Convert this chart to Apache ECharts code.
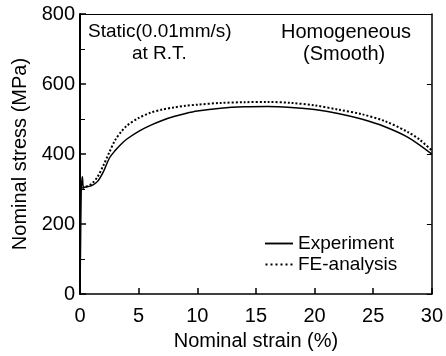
<!DOCTYPE html>
<html>
<head>
<meta charset="utf-8">
<script src="https://cdn.jsdelivr.net/npm/echarts@6/dist/echarts.min.js"></script>
<style>
  html, body { margin: 0; padding: 0; background: #fff; }
  #chart { width: 446px; height: 356px; }
</style>
</head>
<body>
<div id="chart"></div>
<script>
// strain (%), stress (MPa)
const experimentData = [
  [0, 0], [0.05, 150], [0.1, 290], [0.15, 320], [0.2, 335], [0.3, 305],
  [0.5, 306], [1, 310], [1.5, 322], [2, 350], [2.5, 388], [3, 410],
  [3.5, 428], [4, 443], [5, 465], [6, 482], [7, 496], [8, 507],
  [9, 516], [10, 523], [12, 531], [14, 535], [16, 536], [18, 533],
  [20, 527], [22, 516], [24, 500], [26, 478], [28, 447], [30, 400]
];
const feData = [
  [0.2, 302], [0.5, 307], [1, 315], [1.5, 335], [2, 368], [2.5, 405],
  [3, 440], [3.5, 463], [4, 481], [5, 503], [6, 518], [7, 527],
  [8, 533], [9, 538], [10, 541], [12, 546], [14, 548], [16, 549],
  [18, 546], [20, 539], [22, 527], [24, 514], [26, 494], [28, 462],
  [29, 440], [30, 410]
];
const seriesNames = ['Experiment', 'FE-analysis'];
const noteLeft = ['Static(0.01mm/s)', 'at R.T.'];
const noteRight = ['Homogeneous', '(Smooth)'];

const font = 'Liberation Sans, Arial, sans-serif';
// legend samples: a plain bar and a row of dots
const solidIcon = 'path://M0,0h30v2h-30z';
const dottedIcon = 'path://M0,0h2v2h-2zM5,0h2v2h-2zM10,0h2v2h-2zM15,0h2v2h-2zM20,0h2v2h-2zM25,0h2v2h-2z';

const chart = echarts.init(document.getElementById('chart'));

chart.setOption({
  animation: false,
  grid: { left: 80, right: 13, top: 14, bottom: 59 },
  legend: {
    orient: 'vertical',
    left: 260,
    top: 229,
    itemWidth: 28,
    itemHeight: 2,
    itemGap: 2,
    textStyle: { fontFamily: font, fontSize: 19, color: '#000' },
    data: [
      { name: seriesNames[0], icon: solidIcon },
      { name: seriesNames[1], icon: dottedIcon }
    ]
  },
  xAxis: [{
    type: 'value', min: 0, max: 30, interval: 5,
    name: 'Nominal strain (%)', nameLocation: 'middle', nameGap: 27,
    nameTextStyle: { fontFamily: font, fontSize: 20, color: '#000' },
    axisLine: { lineStyle: { color: '#000', width: 1.5 } },
    axisTick: { inside: true, length: 6, lineStyle: { color: '#000', width: 1.5 } },
    axisLabel: { fontFamily: font, fontSize: 20, color: '#000', margin: 12 },
    splitLine: { show: false }
  }, {
    type: 'value', min: 0, max: 30, position: 'top',
    axisLine: { show: true, onZero: false, lineStyle: { color: '#000', width: 1 } },
    axisTick: { show: false }, axisLabel: { show: false }, splitLine: { show: false }
  }],
  yAxis: [{
    type: 'value', min: 0, max: 800, interval: 200,
    name: 'Nominal stress (MPa)', nameLocation: 'middle', nameGap: 50,
    nameTextStyle: { fontFamily: font, fontSize: 20, color: '#000' },
    axisLine: { show: true, lineStyle: { color: '#000', width: 2 } },
    axisTick: { inside: true, length: 6, lineStyle: { color: '#000', width: 1.5 } },
    minorTick: { show: true, splitNumber: 2, length: 5, lineStyle: { color: '#000', width: 1 } },
    axisLabel: { fontFamily: font, fontSize: 20, color: '#000', margin: 5 },
    splitLine: { show: false }
  }, {
    type: 'value', min: 0, max: 800, interval: 200, position: 'right',
    axisLine: { show: true, onZero: false, lineStyle: { color: '#000', width: 1.5 } },
    axisTick: { inside: true, length: 5, lineStyle: { color: '#000', width: 1 } },
    axisLabel: { show: false }, splitLine: { show: false }
  }],
  graphic: [
    { type: 'text', left: 88, top: 22, style: { text: noteLeft[0], fontFamily: font, fontSize: 19, fill: '#000' } },
    { type: 'text', left: 132, top: 44, style: { text: noteLeft[1], fontFamily: font, fontSize: 19, fill: '#000' } },
    { type: 'text', left: 281, top: 22, style: { text: noteRight[0], fontFamily: font, fontSize: 20, fill: '#000' } },
    { type: 'text', left: 303, top: 44, style: { text: noteRight[1], fontFamily: font, fontSize: 20, fill: '#000' } }
  ],
  series: [{
    name: seriesNames[0],
    type: 'line',
    data: experimentData,
    symbol: 'none',
    smooth: 0.3,
    itemStyle: { color: '#000' },
    lineStyle: { color: '#000', width: 1.5 }
  }, {
    name: seriesNames[1],
    type: 'line',
    data: feData,
    symbol: 'none',
    smooth: 0.3,
    itemStyle: { color: '#000' },
    lineStyle: { color: '#000', width: 2, type: [2, 2] }
  }]
});
</script>
</body>
</html>
